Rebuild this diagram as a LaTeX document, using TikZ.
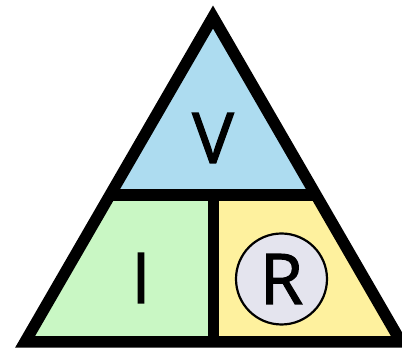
\documentclass[tikz,border=0pt]{standalone}
\usepackage{fontspec}
\setmainfont{Open Sans}
\newfontfamily\letterfont[FakeBold=1.6]{Open Sans}
\definecolor{vblue}{HTML}{ADDCF0}
\definecolor{igreen}{HTML}{C9F7C4}
\definecolor{ryellow}{HTML}{FEF19E}
\definecolor{rcirc}{HTML}{E4E4EE}
\tikzset{
  frame/.style={line width=11.5pt, line join=miter, black},
  letter/.style={inner sep=0pt, font=\letterfont\fontsize{70}{70}\selectfont, text=black},
}
\begin{document}
\begin{tikzpicture}[x=1pt,y=-1pt]
\useasboundingbox (0,0) rectangle (402,352);
\fill[white] (0,0) rectangle (402,352);
\coordinate (A) at (213,17);
\coordinate (BL) at (25,342);
\coordinate (BR) at (401,342);
\coordinate (ML) at (110,195);
\coordinate (MR) at (316,195);
\coordinate (MM) at (213.5,195);
\coordinate (MB) at (213.5,342);
\begin{scope}
  \clip (A) -- (BL) -- (BR) -- cycle;
  \fill[vblue] (0,0) rectangle (402,195);
  \fill[igreen] (0,195) rectangle (213.5,352);
  \fill[ryellow] (213.5,195) rectangle (402,352);
\end{scope}
\draw[frame] (ML) -- (MR);
\draw[frame] (MM) -- (MB);
\draw[frame] (A) -- (BL) -- (BR) -- cycle;
\node[letter] (V) at (213,138) {V};
\node[draw=black, line width=2.2pt, fill=rcirc, circle, minimum size=91pt, inner sep=0pt] (Rc) at (281.5,279) {};
\node[letter] (I) at (141,278) {I};
\node[letter] (R) at (Rc) {R};
\end{tikzpicture}
\end{document}
